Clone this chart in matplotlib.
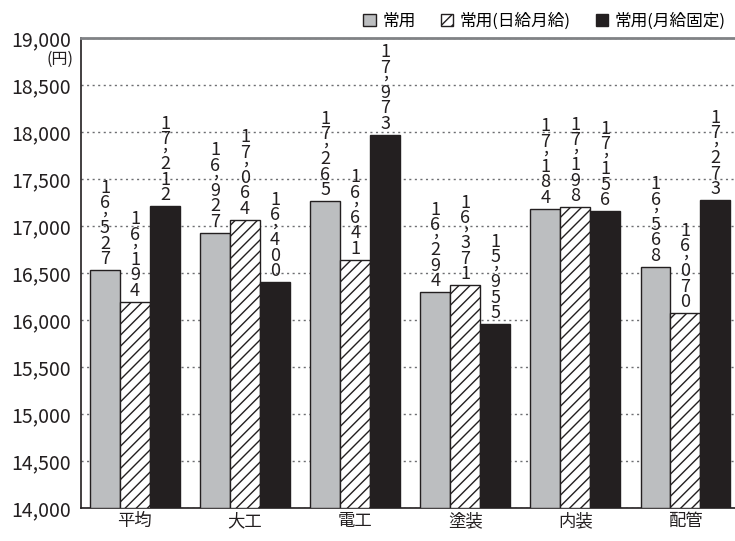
import matplotlib
matplotlib.use("Agg")
import matplotlib.pyplot as plt
import numpy as np

plt.rcParams['font.family'] = ['Noto Sans CJK JP', 'DejaVu Sans']
plt.rcParams['hatch.linewidth'] = 1.0

categories = ['平均', '大工', '電工', '塗装', '内装', '配管']
series_names = ['常用', '常用(日給月給)', '常用(月給固定)']
regular = [16527, 16927, 17265, 16294, 17184, 16568]
daily_monthly = [16194, 17064, 16641, 16371, 17198, 16070]
fixed_monthly = [17212, 16400, 17973, 15955, 17156, 17273]
y_ticks = [14000, 14500, 15000, 15500, 16000, 16500, 17000, 17500, 18000, 18500, 19000]

INK = '#231f20'
PT = 0.72  # points per pixel at 100 dpi

fig = plt.figure(figsize=(7.35, 5.41), dpi=100)
ax = fig.add_axes([81 / 735, 1 - 508 / 541, 1 - 81 / 735, (508 - 38) / 541])

x = np.arange(len(categories))
w = 0.272
styles = [
    dict(facecolor='#bcbec0', edgecolor=INK, hatch=None),
    dict(facecolor='white', edgecolor=INK, hatch='///'),
    dict(facecolor=INK, edgecolor=INK, hatch=None),
]
data = [regular, daily_monthly, fixed_monthly]


def stacked_label(ax, xx, v):
    """Write the value as a vertical stack of characters above the bar."""
    text = f'{v:,}'
    pos = 6.0
    for ch in reversed(text):
        if ch == ',':
            ax.annotate(ch, (xx, v), xytext=(0, (pos + 4.0) * PT),
                        textcoords='offset points', ha='center', va='baseline',
                        fontsize=13, color=INK, zorder=4)
            pos += 9.5
        else:
            ax.annotate(ch, (xx, v), xytext=(0, pos * PT),
                        textcoords='offset points', ha='center', va='baseline',
                        fontsize=13, color=INK, zorder=4)
            pos += 15.5


handles = []
for i, (vals, st) in enumerate(zip(data, styles)):
    xs = x + (i - 1) * w
    bars = ax.bar(xs, np.array(vals) - 14000, bottom=14000, width=w,
                  linewidth=1.0, zorder=3, label=series_names[i], **st)
    handles.append(bars)
    for xx, v in zip(xs, vals):
        stacked_label(ax, xx, v)

ax.set_ylim(14000, 19000)
ax.set_xlim(-0.49, 5.45)
ax.set_yticks(y_ticks)
ax.set_yticklabels([f'{t:,}' for t in y_ticks])
ax.set_xticks(x)
ax.set_xticklabels(categories)
ax.tick_params(axis='y', length=0, pad=7, labelsize=14, colors=INK)
ax.tick_params(axis='x', length=0, pad=3, labelsize=12.5, colors=INK)
ax.yaxis.grid(True, linestyle=(0, (1.5, 2.5)), color='#6d6e71', linewidth=1.0, zorder=0)
ax.set_axisbelow(True)

ax.spines['right'].set_visible(False)
ax.spines['top'].set_color('#808285')
ax.spines['top'].set_linewidth(2.0)
for s in ['left', 'bottom']:
    ax.spines[s].set_color(INK)
    ax.spines[s].set_linewidth(1.2)

fig.text(73 / 735, 1 - 59 / 541, '(円)', ha='right', va='center', fontsize=11.5, color=INK)

fig.legend(handles=handles, labels=series_names, loc='upper right',
           bbox_to_anchor=(1.008, 1.005), ncol=3, frameon=False, fontsize=12,
           handlelength=0.75, handleheight=0.75, handletextpad=0.4, columnspacing=1.5)

fig.savefig('out.png', dpi=100)
